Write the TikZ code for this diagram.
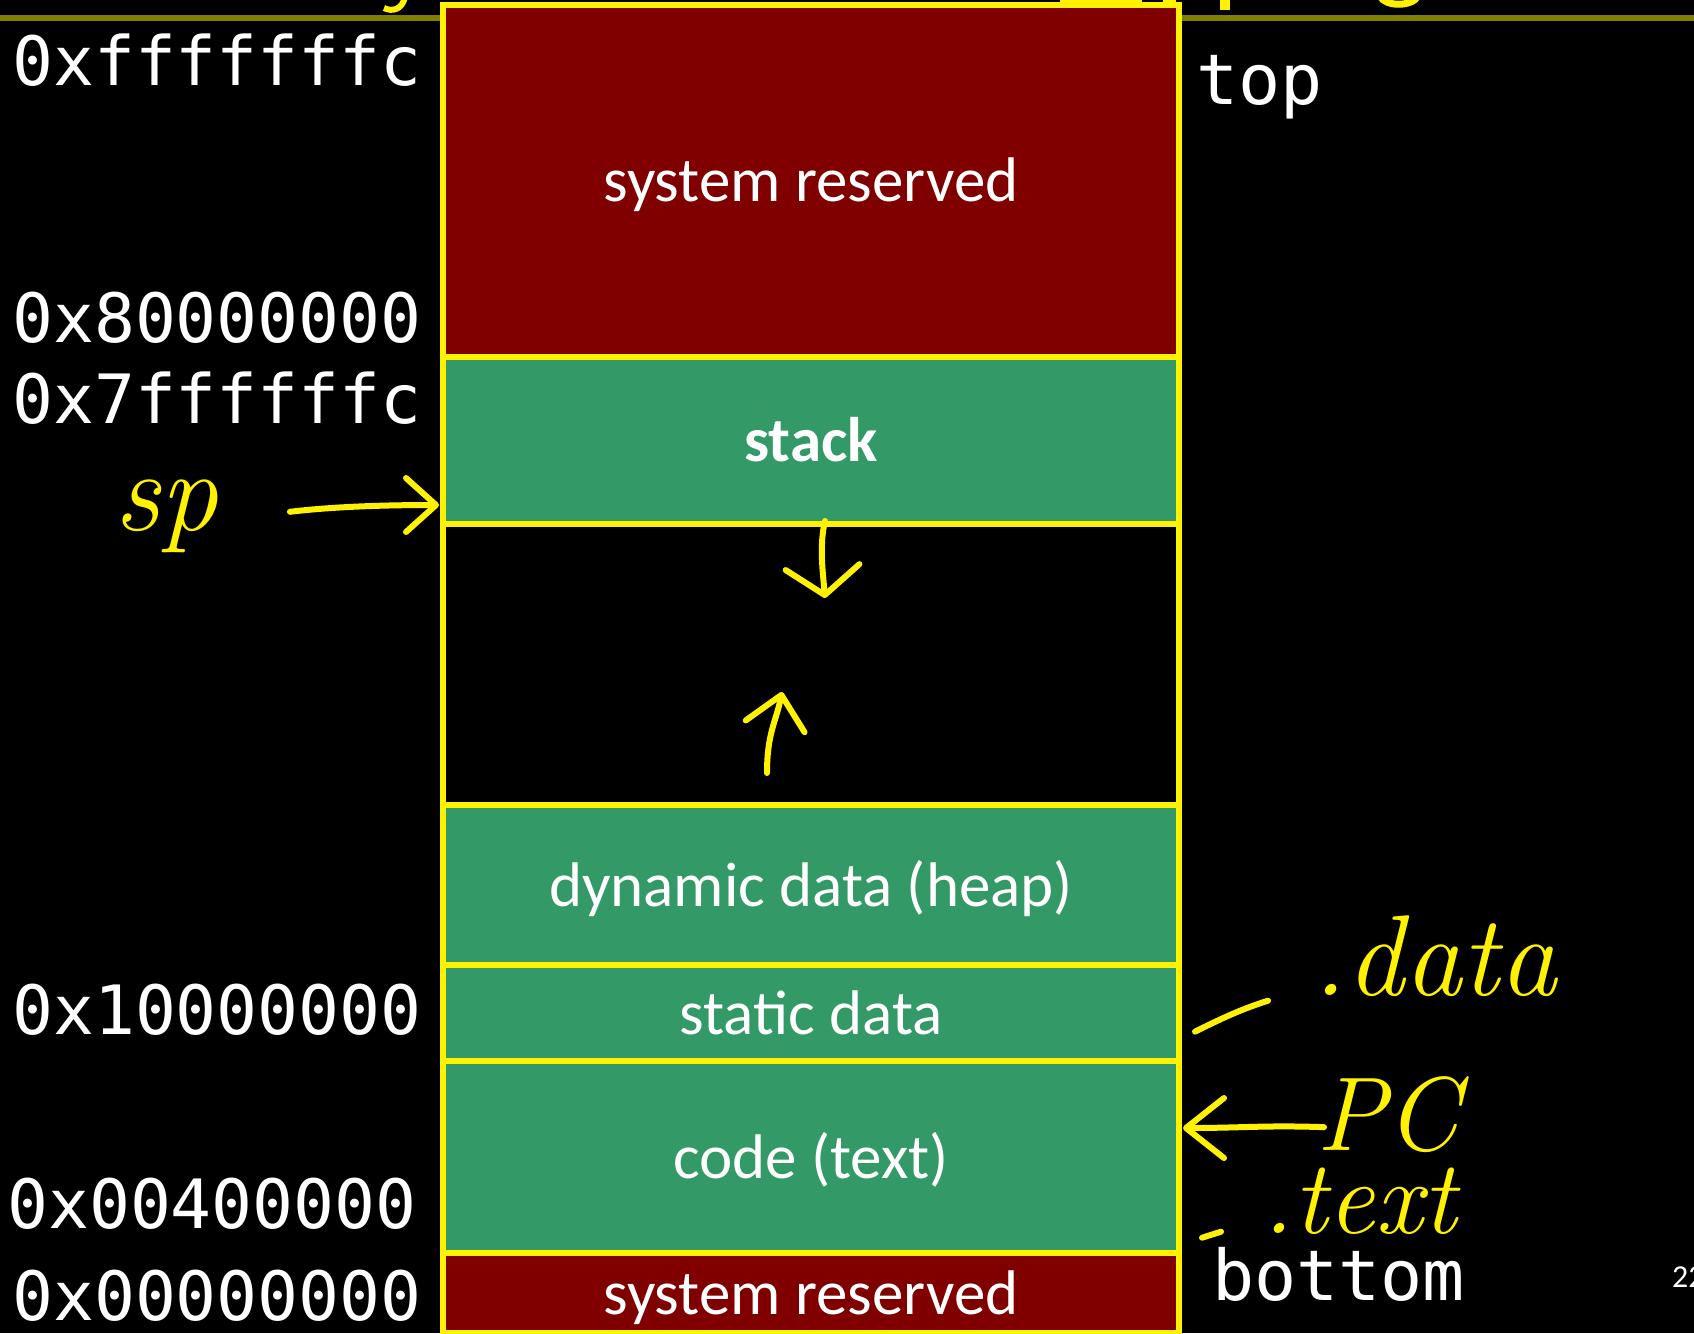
\documentclass[tikz,border=0pt]{standalone}
\usepackage{fontspec}
\newfontfamily\slidefont{Carlito}
\newfontfamily\addrfont{DejaVu Sans Mono}
\usepackage{xcolor}
\usetikzlibrary{arrows.meta, positioning}

\definecolor{segred}{RGB}{128,0,0}
\definecolor{seggreen}{RGB}{51,153,102}
\definecolor{rulecol}{RGB}{128,128,0}

\begin{document}
\begin{tikzpicture}[
    x=1pt, y=-1pt,
    seg/.style={rectangle, draw=yellow, line width=6pt, minimum width=736pt, inner sep=0pt, outer sep=0pt, align=center, text=white, text height=44pt, text depth=2pt, font=\slidefont\fontsize{63}{70}\selectfont},
    addr/.style={anchor=base west, inner sep=0pt, text=white, font=\addrfont\fontsize{68}{72}\selectfont},
    side/.style={addr, font=\addrfont\fontsize{70}{74}\selectfont},
    ink/.style={anchor=base west, inner sep=0pt, text=yellow, font=\itshape\fontsize{105}{110}\selectfont},
    hand/.style={yellow, line width=6pt, line cap=round, line join=round}
]
\fill[black] (0,0) rectangle (1694,1333);
\useasboundingbox (0,0) rectangle (1694,1333);
\draw[rulecol, line width=6pt] (0,18) -- (1694,18);

% bits of the heading that hang below the top edge
\draw[yellow, line width=6pt] (405,-3) .. controls (402,10) and (392,12) .. (384,8);
\fill[yellow] (1220,0) rectangle (1230,10);
\draw[yellow, line width=7pt] (1380,-4) .. controls (1385,7) and (1412,7) .. (1418,-4);

\node[seg, fill=segred, minimum height=352.5pt, anchor=north] (sysTop) at (811,4.5) {system reserved};
\node[seg, fill=seggreen, minimum height=167pt, below=0pt of sysTop] (stack) {\bfseries stack};
\node[seg, fill=black, minimum height=281pt, below=0pt of stack] (free) {};
\node[seg, fill=seggreen, minimum height=160pt, below=0pt of free] (heap) {dynamic data (heap)};
\node[seg, fill=seggreen, minimum height=96pt, below=0pt of heap] (static) {static data};
\node[seg, fill=seggreen, minimum height=192pt, below=0pt of static] (code) {code (text)};
\node[seg, fill=segred, minimum height=80pt, below=0pt of code] (sysBot) {system reserved};
\fill[yellow] (1060,0) rectangle (1142,2);
\fill[yellow] (1163,0) rectangle (1176,2);

\node[addr] (aTop)    at (12,85)   {0xfffffffc};
\node[addr] (aKernel) at (12,342)  {0x80000000};
\node[addr] (aStack)  at (12,423)  {0x7ffffffc};
\node[addr] (aData)   at (12,1034) {0x10000000};
\node[addr] (aText)   at (7,1228)  {0x00400000};
\node[addr] (aZero)   at (12,1320) {0x00000000};

\node[side] (topLbl) at (1196,104)  {top};
\node[side] (botLbl) at (1212,1300) {bottom};
\node[anchor=base west, inner sep=0pt, text=white, font=\slidefont\fontsize{32}{34}\selectfont] (pageNo) at (1672,1287) {22};

\node[ink, font=\itshape\fontsize{115}{120}\selectfont] (spLbl) at (114,530) {sp};
\node[ink, font=\itshape\fontsize{115}{120}\selectfont] (dataLbl) at (1312,995) {.data};
\node[ink] (pcLbl)   at (1316,1150) {PC};
\node[ink] (textLbl) at (1262,1233) {.text};

\draw[hand, -{Straight Barb[round, length=30pt, width=54pt]}] ([shift={(72,-4)}]spLbl.east) .. controls +(50,-6) and +(-40,0) .. ([shift={(-4,-19)}]stack.south west);
\draw[hand, -{Straight Barb[round, length=28pt, width=74pt]}] ([shift={(14,-3)}]stack.south) .. controls +(-6,25) and +(-2,-25) .. ([shift={(14,74)}]stack.south);
\draw[hand, -{Straight Barb[round, length=32pt, width=60pt]}] ([shift={(-44,-32)}]heap.north) .. controls +(0,-40) and +(-6,30) .. ([shift={(-29,-113)}]heap.north);
\draw[hand, -{Straight Barb[round, length=38pt, width=60pt]}] ([shift={(8,13)}]pcLbl.west) .. controls +(-60,-2) and +(60,0) .. ([shift={(4,-29)}]code.east);
\draw[hand] ([shift={(-117,76)}]dataLbl.west) .. controls +(30,-15) and +(-25,8) .. ([shift={(-44,45)}]dataLbl.west);
\draw[hand] ([shift={(-60,37)}]textLbl.west) -- ([shift={(-41,31)}]textLbl.west);
\end{tikzpicture}
\end{document}
